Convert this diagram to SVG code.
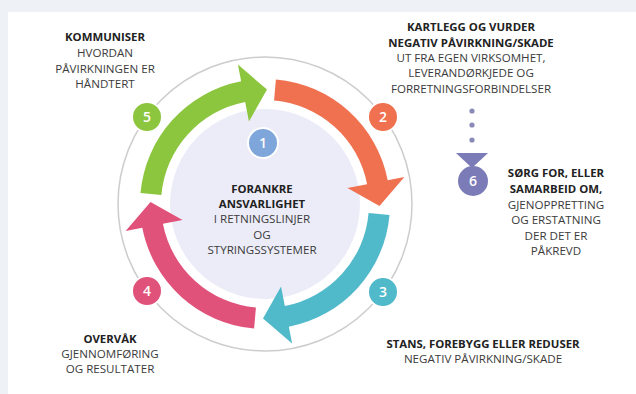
<svg xmlns="http://www.w3.org/2000/svg" xmlns:xlink="http://www.w3.org/1999/xlink" width="636" height="394" viewBox="0 0 636 394">
<style>
text{font-family:"Open Sans","Liberation Sans",sans-serif;font-size:11.6px;fill:#3b3b3b;text-anchor:middle}
.b{font-weight:bold;fill:#222;font-size:11.4px}
.n{font-weight:600;font-size:14px;fill:#fff}
.num{stroke:#fff;stroke-width:2}
</style>
<defs>
<path id="arrow" d="M140.48 193.10 A125 125 0 0 1 241.15 81.30 L237.90 64.61 L267.00 89.52 L248.97 121.54 L245.16 101.91 A104 104 0 0 0 161.40 194.94 Z"/>
</defs>
<rect x="0" y="0" width="636" height="394" fill="#eef2f6"/>
<rect x="8" y="12" width="628" height="382" fill="#fff"/>
<circle cx="265" cy="204" r="147" fill="none" stroke="#cdcdcd" stroke-width="1.5"/>
<g id="node1">
<circle cx="265" cy="204" r="95" fill="#ececf8"/>
<circle class="num" cx="263" cy="143" r="15" fill="#7ea6da"/>
<text class="n" x="263" y="148">1</text>
<text class="b" x="262" y="193">FORANKRE</text>
<text class="b" x="262" y="208">ANSVARLIGHET</text>
<text x="262" y="223">I RETNINGSLINJER</text>
<text x="262" y="239">OG</text>
<text x="262" y="254">STYRINGSSYSTEMER</text>
</g>
<g id="connectors">
<use href="#arrow" xlink:href="#arrow" fill="#8cc63f"/>
<use href="#arrow" xlink:href="#arrow" fill="#f0714f" transform="rotate(90 265 204)"/>
<use href="#arrow" xlink:href="#arrow" fill="#50b9ca" transform="rotate(180 265 204)"/>
<use href="#arrow" xlink:href="#arrow" fill="#e1527b" transform="rotate(270 265 204)"/>
<g fill="#8a8ab8">
<circle cx="472" cy="111" r="2.6"/>
<circle cx="472" cy="125" r="2.6"/>
<circle cx="472" cy="140" r="2.6"/>
</g>
<polygon points="456,153 488,153 472,168" fill="#7b7bb8"/>
</g>
<g id="node2">
<circle class="num" cx="383" cy="117" r="15" fill="#f0714f"/>
<text class="n" x="383" y="122">2</text>
<text class="b" x="471" y="31">KARTLEGG OG VURDER</text>
<text class="b" x="471" y="47">NEGATIV PÅVIRKNING/SKADE</text>
<text x="471" y="62">UT FRA EGEN VIRKSOMHET,</text>
<text x="471" y="77">LEVERANDØRKJEDE OG</text>
<text x="471" y="93">FORRETNINGSFORBINDELSER</text>
</g>
<g id="node3">
<circle class="num" cx="383" cy="292" r="15" fill="#50b9ca"/>
<text class="n" x="383" y="297">3</text>
<text class="b" x="483" y="348">STANS, FOREBYGG ELLER REDUSER</text>
<text x="483" y="363">NEGATIV PÅVIRKNING/SKADE</text>
</g>
<g id="node4">
<circle class="num" cx="147" cy="291" r="15" fill="#e1527b"/>
<text class="n" x="147" y="296">4</text>
<text class="b" x="110" y="343">OVERVÅK</text>
<text x="110" y="358">GJENNOMFØRING</text>
<text x="110" y="373">OG RESULTATER</text>
</g>
<g id="node5">
<circle class="num" cx="147" cy="117" r="15" fill="#8cc63f"/>
<text class="n" x="147" y="122">5</text>
<text class="b" x="105" y="41">KOMMUNISER</text>
<text x="105" y="57">HVORDAN</text>
<text x="105" y="73">PÅVIRKNINGEN ER</text>
<text x="105" y="88">HÅNDTERT</text>
</g>
<g id="node6">
<circle cx="473" cy="181" r="15" fill="#7b7bb8"/>
<text class="n" x="473" y="186">6</text>
<text class="b" x="556" y="177">SØRG FOR, ELLER</text>
<text class="b" x="556" y="193">SAMARBEID OM,</text>
<text x="556" y="209">GJENOPPRETTING</text>
<text x="556" y="224">OG ERSTATNING</text>
<text x="556" y="240">DER DET ER</text>
<text x="556" y="255">PÅKREVD</text>
</g>
</svg>
